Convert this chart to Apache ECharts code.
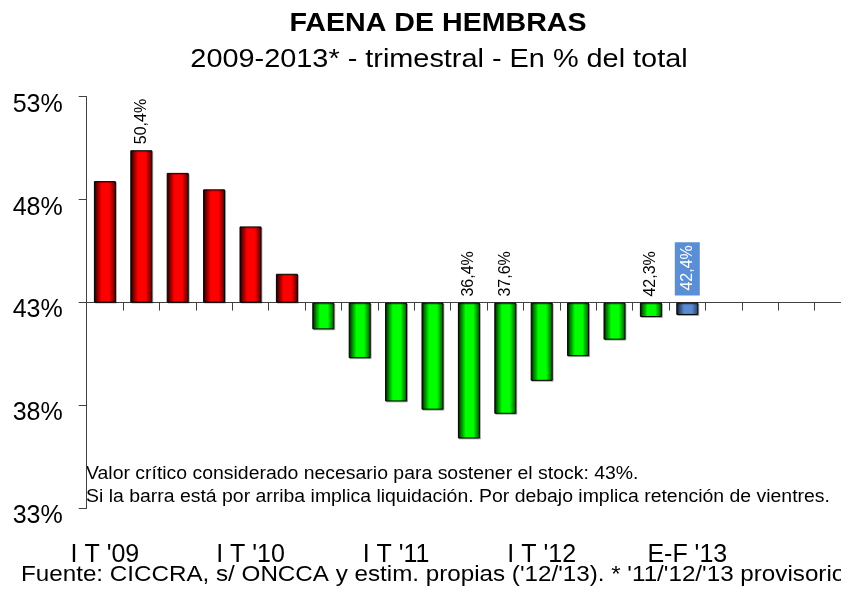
<!DOCTYPE html>
<html>
<head>
<meta charset="utf-8">
<script src="https://cdn.jsdelivr.net/npm/echarts@6/dist/echarts.min.js"></script>
<style>
  html, body { margin: 0; padding: 0; background: #fff; }
  #chart { width: 841px; height: 592px; }
</style>
</head>
<body>
<div id="chart"></div>
<script>
// Datos: faena de hembras, % del total (trimestral)
const categorias = [
    "I T '09", "II T '09", "III T '09", "IV T '09",
    "I T '10", "II T '10", "III T '10", "IV T '10",
    "I T '11", "II T '11", "III T '11", "IV T '11",
    "I T '12", "II T '12", "III T '12", "IV T '12",
    "E-F '13", "", "", "", ""
];
const valores = [
    48.9, 50.4, 49.3, 48.5,
    46.7, 44.4, 41.7, 40.3,
    38.2, 37.8, 36.4, 37.6,
    39.2, 40.4, 41.2, 42.3,
    42.4, null, null, null, null
];
const conEtiqueta = ["II T '09", "III T '11", "IV T '11", "IV T '12", "E-F '13"];
const periodoParcial = "E-F '13";
const CRITICO = 43;            // valor crítico, línea base
const ejeY = [33, 53, 5];      // min, max, paso

const FONT = "'Liberation Sans', Arial, sans-serif";

function gradiente(oscuroIzq, claro, oscuroDer) {
    return new echarts.graphic.LinearGradient(0, 0, 1, 0, [
        { offset: 0, color: oscuroIzq },
        { offset: 0.35, color: claro },
        { offset: 0.7, color: claro },
        { offset: 1, color: oscuroDer }
    ]);
}
const colRojo = gradiente('#200000', '#ff0000', '#4a0000');
const colVerde = gradiente('#002000', '#00ff00', '#004a00');
const colAzul = gradiente('#0d1a33', '#5a8bd0', '#263f66');

const fmt = v => v.toFixed(1).replace('.', ',') + '%';

const datos = valores.map((v, i) => {
    if (v == null) return null;
    const cat = categorias[i];
    const parcial = cat === periodoParcial;
    return {
        value: +(v - CRITICO).toFixed(2),
        itemStyle: { color: parcial ? colAzul : (v > CRITICO ? colRojo : colVerde) },
        label: {
            show: conEtiqueta.includes(cat),
            formatter: () => fmt(v),
            color: parcial ? '#fff' : '#000',
            backgroundColor: parcial ? '#5b8fd5' : 'transparent',
            padding: parcial ? [5, 3, 4, 5] : 0,
            distance: parcial ? 7 : 6
        }
    };
});

const chart = echarts.init(document.getElementById('chart'));

chart.setOption({
    animation: false,
    // el gráfico original está recortado a la derecha: la grilla sigue fuera del lienzo
    grid: { left: 86.7, width: 764.4, top: 96.7, height: 411.8, outerBoundsMode: 'none' },
    xAxis: [
        {
            type: 'category',
            data: categorias,
            position: 'bottom',
            axisLine: { onZero: true, lineStyle: { color: '#404040', width: 1 } },
            axisTick: { show: true, interval: 0, length: 8, lineStyle: { color: '#404040' } },
            axisLabel: { show: false },
            splitLine: { show: false }
        },
        {
            type: 'category',
            data: categorias,
            position: 'bottom',
            axisLine: { show: false, onZero: false },
            axisTick: { show: false },
            axisLabel: {
                interval: 3,
                margin: 34,
                color: '#000',
                fontFamily: FONT,
                fontSize: 25
            },
            splitLine: { show: false }
        }
    ],
    yAxis: {
        type: 'value',
        min: ejeY[0] - CRITICO,
        max: ejeY[1] - CRITICO,
        interval: ejeY[2],
        axisLine: { show: true, lineStyle: { color: '#404040', width: 1 } },
        axisTick: { show: true, length: 8, lineStyle: { color: '#404040' } },
        splitLine: { show: false },
        axisLabel: {
            margin: 24,
            color: '#000',
            fontFamily: FONT,
            fontSize: 25,
            verticalAlign: 'top',
            lineHeight: 16,
            formatter: v => (v + CRITICO) + '%'
        }
    },
    series: [{
        type: 'bar',
        xAxisIndex: 0,
        barWidth: 22,
        data: datos,
        itemStyle: {
            borderColor: '#000',
            borderWidth: 1,
            shadowColor: 'rgba(0,0,0,0.25)',
            shadowOffsetX: 1,
            shadowOffsetY: 1
        },
        label: {
            position: 'top',
            rotate: 90,
            align: 'left',
            verticalAlign: 'middle',
            fontFamily: FONT,
            fontSize: 16
        }
    }],
    graphic: [
        {
            type: 'text', x: 438, y: 24, scaleX: 1.1,
            style: { text: 'FAENA DE HEMBRAS', font: 'bold 26px ' + FONT, fill: '#000', textAlign: 'center', textVerticalAlign: 'middle' }
        },
        {
            type: 'text', x: 439, y: 60, scaleX: 1.11,
            style: { text: '2009-2013* - trimestral - En % del total', font: '26px ' + FONT, fill: '#000', textAlign: 'center', textVerticalAlign: 'middle' }
        },
        {
            type: 'text', x: 86, y: 474, scaleX: 1.11,
            style: { text: 'Valor crítico considerado necesario para sostener el stock: 43%.', font: '17.5px ' + FONT, fill: '#000', textAlign: 'left', textVerticalAlign: 'middle' }
        },
        {
            type: 'text', x: 86, y: 497, scaleX: 1.11,
            style: { text: 'Si la barra está por arriba implica liquidación. Por debajo implica retención de vientres.', font: '17.5px ' + FONT, fill: '#000', textAlign: 'left', textVerticalAlign: 'middle' }
        },
        {
            type: 'text', x: 21, y: 575, scaleX: 1.1,
            style: { text: "Fuente: CICCRA, s/ ONCCA y estim. propias ('12/'13). * '11/'12/'13 provisorio", font: '22px ' + FONT, fill: '#000', textAlign: 'left', textVerticalAlign: 'middle' }
        }
    ]
});
</script>
</body>
</html>
